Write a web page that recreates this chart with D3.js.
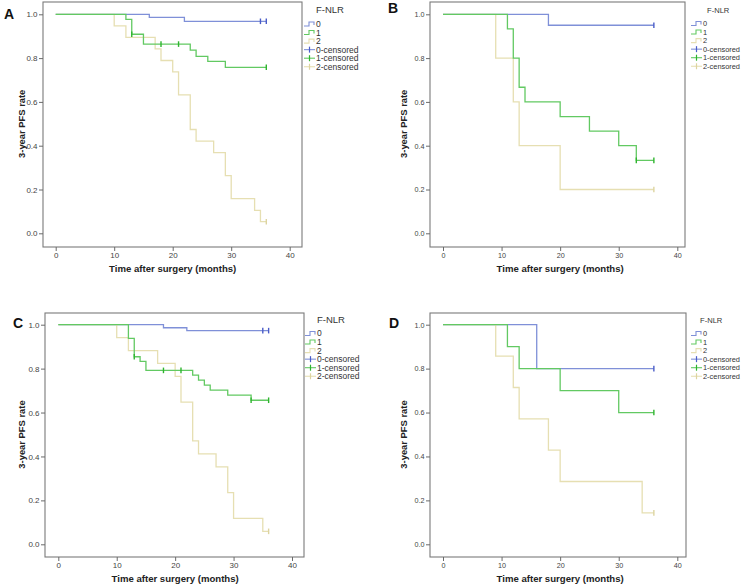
<!DOCTYPE html>
<html><head><meta charset="utf-8">
<script src="https://cdn.jsdelivr.net/npm/d3@7"></script>
<style>
html,body{margin:0;padding:0;background:#fff;}
svg{display:block;font-family:"Liberation Sans",Arial,sans-serif;}
</style></head>
<body>
<svg id="chart" width="742" height="587"></svg>
<script>
// ---------- data ----------
const xTicks = [0, 10, 20, 30, 40];
const yTicks = [0.0, 0.2, 0.4, 0.6, 0.8, 1.0];
const groupNames = ["0", "1", "2"];
const legendLabels = ["0", "1", "2", "0-censored", "1-censored", "2-censored"];
const panelLetters = ["A", "B", "C", "D"];
const endTime = 36;

// Panel A
const a0Times = [16, 22], a0Surv = [0.986, 0.968], a0Cens = [35, 36];
const a1Times = [12, 13, 15, 23, 24, 26, 29], a1Surv = [0.977, 0.909, 0.864, 0.836, 0.808, 0.785, 0.758], a1Cens = [13, 18, 21, 36];
const a2Times = [10, 12, 17, 18, 20, 21, 23, 24, 27, 29, 30, 34, 35];
const a2Surv = [0.947, 0.895, 0.842, 0.789, 0.737, 0.632, 0.474, 0.421, 0.368, 0.263, 0.158, 0.105, 0.053];
const a2Cens = [36];
// Panel B
const b0Times = [18], b0Surv = [0.95], b0Cens = [36];
const b1Times = [11, 12, 13, 14, 20, 25, 30, 33], b1Surv = [0.933, 0.8, 0.667, 0.6, 0.533, 0.467, 0.4, 0.333], b1Cens = [33, 36];
const b2Times = [9, 12, 13, 20], b2Surv = [0.8, 0.6, 0.4, 0.2], b2Cens = [36];
// Panel C
const c0Times = [18, 22], c0Surv = [0.986, 0.973], c0Cens = [35, 36];
const c1Times = [12, 13, 14, 15, 23, 24, 25, 26, 29, 33];
const c1Surv = [0.938, 0.854, 0.833, 0.792, 0.770, 0.748, 0.725, 0.702, 0.679, 0.656];
const c1Cens = [13, 18, 21, 33, 36];
const c2Times = [10, 12, 17, 20, 21, 23, 24, 27, 29, 30, 35];
const c2Surv = [0.941, 0.882, 0.824, 0.765, 0.647, 0.471, 0.412, 0.353, 0.235, 0.118, 0.059];
const c2Cens = [36];
// Panel D
const d0Times = [16], d0Surv = [0.8], d0Cens = [36];
const d1Times = [11, 13, 20, 30], d1Surv = [0.9, 0.8, 0.7, 0.6], d1Cens = [36];
const d2Times = [9, 12, 13, 18, 20, 34], d2Surv = [0.857, 0.714, 0.571, 0.429, 0.286, 0.143], d2Cens = [36];

const panelData = [
  [[a0Times, a0Surv, a0Cens], [a1Times, a1Surv, a1Cens], [a2Times, a2Surv, a2Cens]],
  [[b0Times, b0Surv, b0Cens], [b1Times, b1Surv, b1Cens], [b2Times, b2Surv, b2Cens]],
  [[c0Times, c0Surv, c0Cens], [c1Times, c1Surv, c1Cens], [c2Times, c2Surv, c2Cens]],
  [[d0Times, d0Surv, d0Cens], [d1Times, d1Surv, d1Cens], [d2Times, d2Surv, d2Cens]]
];

// ---------- layout / style ----------
const layouts = [
  {fx: 43,  fy: 2,   fw: 259, fh: 245, x0: 55.7, x40: 289.7, y1: 14.3,  y0: 233.3, lx: 304, ly: 24,    letX: 4,   letY: 19,  ylx: 22,  tickFs: 8,   legFs: 8.5, titleFs: 9.5, titleDx: 12},
  {fx: 430, fy: 2,   fw: 255, fh: 245, x0: 443,  x40: 677.3, y1: 14.3,  y0: 233.3, lx: 691, ly: 23.5,  letX: 388, letY: 13,  ylx: 404, tickFs: 7.2, legFs: 7.4, titleFs: 7.6, titleDx: 16},
  {fx: 45,  fy: 313, fw: 259, fh: 244, x0: 58.3, x40: 292,   y1: 324.7, y0: 544.3, lx: 305, ly: 333.5, letX: 13,  letY: 328, ylx: 22,  tickFs: 8,   legFs: 8.5, titleFs: 9.5, titleDx: 12},
  {fx: 430, fy: 313, fw: 256, fh: 244, x0: 443,  x40: 677.3, y1: 324.7, y0: 544.3, lx: 691, ly: 333.5, letX: 389, letY: 328, ylx: 404, tickFs: 7.2, legFs: 7.4, titleFs: 7.6, titleDx: 9}
];
const lineColors = ["#7f90d8", "#62c962", "#e6dfb2"];
const censColors = ["#4a5cc8", "#2fb52f", "#ddd4a0"];
const drawOrder = [0, 2, 1];

const svg = d3.select("#chart");

panelData.forEach((groups, pi) => {
  const L = layouts[pi];
  const g = svg.append("g");
  const x = d3.scaleLinear().domain([0, 40]).range([L.x0, L.x40]);
  const y = d3.scaleLinear().domain([0, 1]).range([L.y0, L.y1]);

  // frame
  g.append("rect").attr("x", L.fx).attr("y", L.fy).attr("width", L.fw).attr("height", L.fh)
    .attr("fill", "none").attr("stroke", "#7a7a7a").attr("stroke-width", 1.1);

  // y axis
  const ya = g.append("g").attr("transform", `translate(${L.fx},0)`)
    .call(d3.axisLeft(y).tickValues(yTicks).tickFormat(d3.format(".1f")).tickSize(4).tickPadding(1.5));
  // x axis
  const xa = g.append("g").attr("transform", `translate(0,${L.fy + L.fh})`)
    .call(d3.axisBottom(x).tickValues(xTicks).tickSize(4).tickPadding(1.5));
  [ya, xa].forEach(a => {
    a.select(".domain").remove();
    a.selectAll(".tick line").attr("stroke", "#6a6a6a");
    a.selectAll(".tick text").attr("fill", "#444").style("font-size", L.tickFs + "px")
      .style("font-family", "'Liberation Sans',Arial,sans-serif");
  });

  // axis titles
  g.append("text").attr("x", (L.x0 + L.x40) / 2).attr("y", L.fy + L.fh + 25)
    .attr("text-anchor", "middle").style("font-size", "9.6px").style("font-weight", "bold").attr("fill", "#222")
    .text("Time after surgery (months)");
  g.append("text").attr("transform", `translate(${L.ylx},${(L.y0 + L.y1) / 2}) rotate(-90)`)
    .attr("text-anchor", "middle").attr("dy", "0.35em").style("font-size", "9.4px").style("font-weight", "bold").attr("fill", "#222")
    .text("3-year PFS rate");

  // panel letter
  g.append("text").attr("x", L.letX).attr("y", L.letY).style("font-size", "14px").style("font-weight", "bold")
    .attr("fill", "#111").text(panelLetters[pi]);

  // curves
  const line = d3.line().x(d => x(d[0])).y(d => y(d[1])).curve(d3.curveStepAfter);
  const survAt = (times, surv, t) => {
    let s = 1;
    times.forEach((tt, i) => { if (tt <= t) s = surv[i]; });
    return s;
  };
  drawOrder.forEach(gi => {
    const [times, surv, cens] = groups[gi];
    const pts = [[0, 1]].concat(times.map((t, i) => [t, surv[i]]));
    pts.push([endTime, surv[surv.length - 1]]);
    g.append("path").attr("d", line(pts)).attr("fill", "none")
      .attr("stroke", lineColors[gi]).attr("stroke-width", 1.3);
  });
  drawOrder.forEach(gi => {
    const [times, surv, cens] = groups[gi];
    g.selectAll(null).data(cens).enter().append("line")
      .attr("x1", d => x(d)).attr("x2", d => x(d))
      .attr("y1", d => y(survAt(times, surv, d)) - 2.8)
      .attr("y2", d => y(survAt(times, surv, d)) + 2.8)
      .attr("stroke", censColors[gi]).attr("stroke-width", 1.4);
  });

  // legend
  const lg = g.append("g");
  lg.append("text").attr("x", L.lx + L.titleDx).attr("y", L.ly - 11).style("font-size", L.titleFs + "px").attr("fill", "#333").text("F-NLR");
  legendLabels.forEach((lab, i) => {
    const cy = L.ly + i * 8.55;
    const gi = i % 3;
    if (i < 3) {
      lg.append("path")
        .attr("d", `M${L.lx},${cy + 2} H${L.lx + 5} V${cy - 2} H${L.lx + 10} V${cy + 1}`)
        .attr("fill", "none").attr("stroke", lineColors[gi]).attr("stroke-width", 1.1);
    } else {
      lg.append("line").attr("x1", L.lx).attr("x2", L.lx + 11).attr("y1", cy).attr("y2", cy)
        .attr("stroke", lineColors[gi]).attr("stroke-width", 1.1);
      lg.append("line").attr("x1", L.lx + 5.5).attr("x2", L.lx + 5.5).attr("y1", cy - 3).attr("y2", cy + 3)
        .attr("stroke", censColors[gi]).attr("stroke-width", 1.2);
    }
    lg.append("text").attr("x", L.lx + 12).attr("y", cy).attr("dy", "0.35em")
      .style("font-size", L.legFs + "px").attr("fill", "#333").text(lab);
  });
});
</script>
</body></html>
